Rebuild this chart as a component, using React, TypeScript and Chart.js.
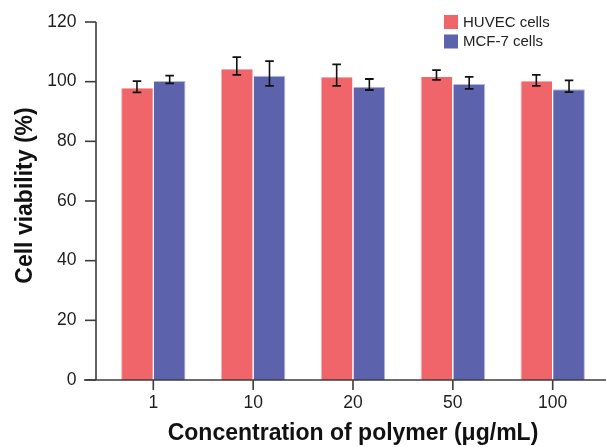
import React, { useEffect, useRef } from "react";
import { Chart, registerables } from "chart.js";

Chart.register(...registerables);

const categories = ["1", "10", "20", "50", "100"];
const seriesNames = ["HUVEC cells", "MCF-7 cells"];
const huvecValues = [97.8, 104.2, 101.5, 101.6, 100.1];
const huvecLow = [96.4, 102.3, 98.6, 100.6, 98.6];
const huvecHigh = [100.2, 108.2, 105.8, 103.9, 102.3];
const mcfValues = [100.2, 102.0, 98.3, 99.2, 97.5];
const mcfLow = [99.4, 98.6, 97.2, 97.6, 96.5];
const mcfHigh = [102.0, 106.9, 100.9, 101.6, 100.4];
const yMin = 0;
const yMax = 120;
const yStep = 20;
const xTitle = "Concentration of polymer (μg/mL)";
const yTitle = "Cell viability (%)";

const FONT = "'Liberation Sans', Arial, Helvetica, sans-serif";
const RED = "#F06569";
const BLUE = "#5C63AC";
const AXIS = "#3c3c3c";

const lows = [huvecLow, mcfLow];
const highs = [huvecHigh, mcfHigh];

const axesPlugin = {
  id: "customAxes",
  afterDraw(chart: any) {
    const { ctx, chartArea } = chart;
    const yScale = chart.scales.y;
    const xScale = chart.scales.x;
    const axisX = chartArea.left - 7.4;
    const axisY = chartArea.bottom;
    ctx.save();
    ctx.strokeStyle = AXIS;
    ctx.lineWidth = 1.6;
    ctx.beginPath();
    ctx.moveTo(axisX, chartArea.top);
    ctx.lineTo(axisX, axisY);
    ctx.stroke();
    ctx.beginPath();
    ctx.moveTo(axisX - 12, axisY);
    ctx.lineTo(chart.width, axisY);
    ctx.stroke();
    yScale.ticks.forEach((t: any) => {
      const py = yScale.getPixelForValue(t.value);
      ctx.beginPath();
      ctx.moveTo(axisX - 11, py);
      ctx.lineTo(axisX, py);
      ctx.stroke();
    });
    categories.forEach((_, i) => {
      const px = xScale.getPixelForValue(i);
      ctx.beginPath();
      ctx.moveTo(px, axisY);
      ctx.lineTo(px, axisY + 10);
      ctx.stroke();
    });
    // y-axis title
    ctx.translate(26, (chartArea.top + chartArea.bottom) / 2 - 5.5);
    ctx.rotate(-Math.PI / 2);
    ctx.font = `bold 23px ${FONT}`;
    ctx.fillStyle = "#111";
    ctx.textAlign = "center";
    ctx.textBaseline = "middle";
    ctx.fillText(yTitle, 0, 0);
    ctx.restore();
  },
};

const errorBarPlugin = {
  id: "errorBars",
  afterDatasetsDraw(chart: any) {
    const { ctx } = chart;
    const yScale = chart.scales.y;
    ctx.save();
    ctx.strokeStyle = "#111";
    chart.data.datasets.forEach((_: any, di: number) => {
      const meta = chart.getDatasetMeta(di);
      meta.data.forEach((bar: any, j: number) => {
        const x = bar.x;
        const yl = yScale.getPixelForValue(lows[di][j]);
        const yh = yScale.getPixelForValue(highs[di][j]);
        ctx.lineWidth = 1.6;
        ctx.beginPath();
        ctx.moveTo(x, yl);
        ctx.lineTo(x, yh);
        ctx.stroke();
        ctx.lineWidth = 1.8;
        ctx.beginPath();
        ctx.moveTo(x - 4.3, yh);
        ctx.lineTo(x + 4.3, yh);
        ctx.moveTo(x - 4.3, yl);
        ctx.lineTo(x + 4.3, yl);
        ctx.stroke();
      });
    });
    ctx.restore();
  },
};

const legendPlugin = {
  id: "customLegend",
  afterDraw(chart: any) {
    const { ctx } = chart;
    const x0 = 444;
    const y0 = 15;
    const rowH = 19.5;
    ctx.save();
    ctx.font = `15px ${FONT}`;
    ctx.textBaseline = "middle";
    ctx.textAlign = "left";
    chart.data.datasets.forEach((ds: any, i: number) => {
      const y = y0 + i * rowH;
      ctx.fillStyle = ds.backgroundColor;
      ctx.fillRect(x0, y, 14, 14);
      ctx.fillStyle = "#222";
      ctx.fillText(ds.label, x0 + 19, y + 7.5);
    });
    ctx.restore();
  },
};

export default function App() {
  const canvasRef = useRef<HTMLCanvasElement | null>(null);

  useEffect(() => {
    if (!canvasRef.current) return;
    const chart = new Chart(canvasRef.current, {
      type: "bar",
      data: {
        labels: categories,
        datasets: [
          {
            label: seriesNames[0],
            data: huvecValues,
            backgroundColor: RED,
            borderColor: "rgba(246,170,173,0.9)",
            borderWidth: { left: 1, right: 0, top: 0, bottom: 0 },
            categoryPercentage: 0.655,
            barPercentage: 0.97,
          },
          {
            label: seriesNames[1],
            data: mcfValues,
            backgroundColor: BLUE,
            borderColor: "rgba(170,176,225,0.9)",
            borderWidth: { left: 0, right: 1, top: 1, bottom: 0 },
            categoryPercentage: 0.655,
            barPercentage: 0.97,
          },
        ],
      },
      options: {
        responsive: false,
        animation: false,
        devicePixelRatio: 1,
        layout: { padding: { top: 22, right: 3.4, left: 0, bottom: 0 } },
        plugins: {
          legend: { display: false },
          tooltip: { enabled: false },
        },
        scales: {
          x: {
            grid: { display: false, drawTicks: false },
            border: { display: false },
            ticks: {
              color: "#1e1e1e",
              font: { family: FONT, size: 17.5 },
              padding: 13,
            },
            title: {
              display: true,
              text: xTitle,
              color: "#111",
              font: { family: FONT, size: 23, weight: "bold" },
              padding: { top: 0, bottom: 0 },
            },
            afterFit(scale: any) {
              scale.height = 67;
              scale.paddingLeft = 0;
              scale.paddingRight = 0;
            },
          },
          y: {
            min: yMin,
            max: yMax,
            grid: { display: false, drawTicks: false },
            border: { display: false },
            ticks: {
              stepSize: yStep,
              color: "#1e1e1e",
              font: { family: FONT, size: 17.5 },
              padding: 27,
            },
            title: { display: false },
            afterFit(scale: any) {
              scale.width = 103.4;
              scale.paddingTop = 0;
              scale.paddingBottom = 0;
            },
          },
        },
      },
      plugins: [axesPlugin, errorBarPlugin, legendPlugin],
    } as any);
    return () => chart.destroy();
  }, []);

  return (
    <div style={{ position: "absolute", left: 0, top: 0, width: 606, height: 447, background: "#fff" }}>
      <canvas ref={canvasRef} width={606} height={447} style={{ display: "block" }} />
    </div>
  );
}
